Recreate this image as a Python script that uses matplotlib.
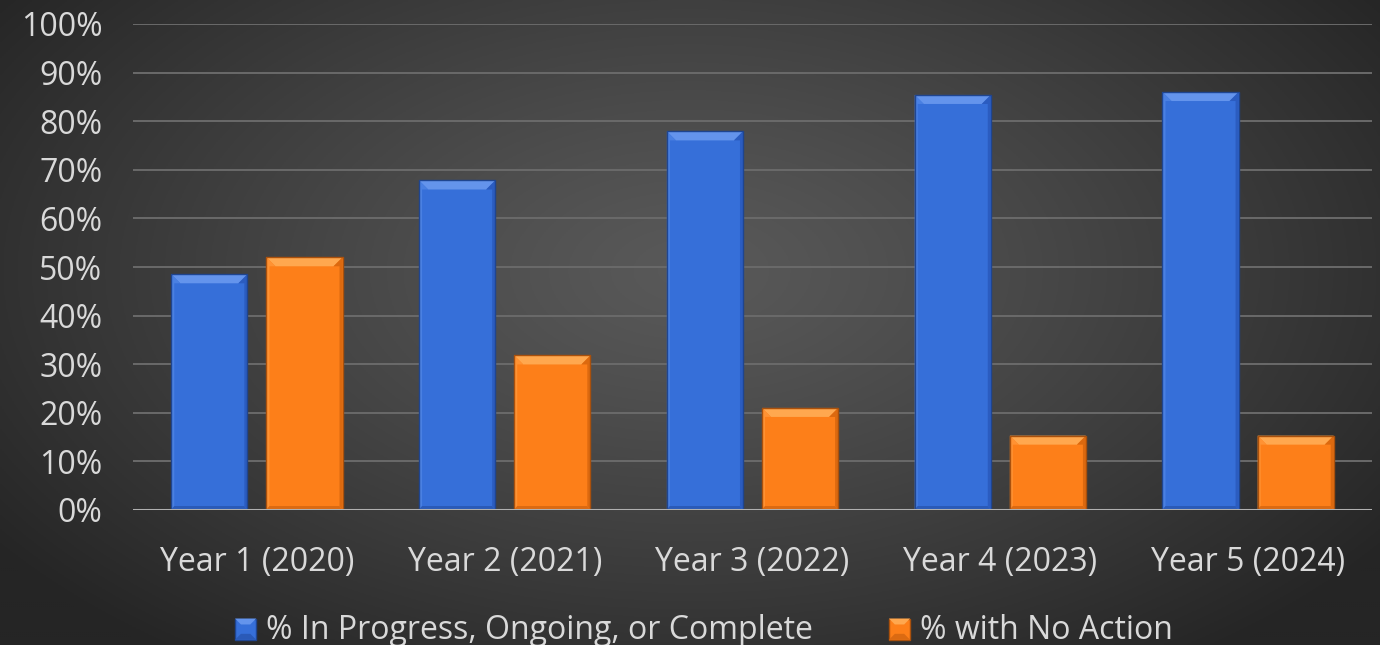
import numpy as np
import matplotlib
matplotlib.use("Agg")
import matplotlib.pyplot as plt
from matplotlib.patches import Polygon, Rectangle
from matplotlib.legend_handler import HandlerPatch

# ---- data ----
categories = ["Year 1 (2020)", "Year 2 (2021)", "Year 3 (2022)", "Year 4 (2023)", "Year 5 (2024)"]
in_progress = [48.5, 67.8, 77.9, 85.4, 86.0]
no_action = [52.0, 31.8, 21.0, 15.3, 15.3]
series_names = ["% In Progress, Ongoing, or Complete", "% with No Action"]
yticks = [0, 10, 20, 30, 40, 50, 60, 70, 80, 90, 100]
ytick_labels = [f"{v}%" for v in yticks]

BLUE = {"face": "#366fd9", "top": "#6494ec", "left": "#4a80e2", "right": "#2b5cc0",
        "bottom": "#2a5ab8", "edge": "#1f4590"}
ORANGE = {"face": "#fd7f19", "top": "#ffa84f", "left": "#ff9233", "right": "#dc690f",
          "bottom": "#db6a12", "edge": "#a9500c"}

FONT = ["Open Sans", "DejaVu Sans"]
TEXT = "#d9d9d9"
FS = 23

W, H, DPI = 13.8, 6.45, 100
fig = plt.figure(figsize=(W, H), dpi=DPI)

# radial background gradient
bg = fig.add_axes([0, 0, 1, 1], zorder=-10)
nx, ny = 690, 322
xx, yy = np.meshgrid(np.linspace(0, 1, nx), np.linspace(0, 1, ny))
r = np.sqrt(((xx - 0.5) / 0.62) ** 2 + ((yy - 0.42) / 0.75) ** 2)
r = np.clip(r, 0, 1)
inner, outer = 0x59, 0x25
lev = (inner + (outer - inner) * r ** 1.2) / 255.0
img = np.dstack([lev, lev, lev])
bg.imshow(img, extent=[0, 1, 0, 1], aspect="auto", origin="upper")
bg.set_axis_off()

ax = fig.add_axes([133 / 1380, (645 - 510) / 645, 1239 / 1380, 486 / 645])
ax.patch.set_alpha(0)
ax.set_xlim(-0.5, len(categories) - 0.5)
ax.set_ylim(0, 100)

for spine in ax.spines.values():
    spine.set_visible(False)
ax.set_yticks(yticks)
ax.set_yticklabels(ytick_labels, fontsize=FS, color=TEXT, family=FONT)
ax.tick_params(axis="y", length=0, pad=22)
x = np.arange(len(categories))
ax.set_xticks(x)
ax.set_xticklabels(categories, fontsize=FS, color=TEXT, family=FONT)
ax.tick_params(axis="x", length=0, pad=26)
for v in yticks[1:]:
    ax.axhline(v, color="#6a6a6a", lw=1.4, zorder=0)
ax.axhline(0, color="#b0b0b0", lw=2.2, zorder=5)

bw = 0.307
off = 0.192


def bevel(patch, c, b_px=9):
    x0, y0 = patch.get_x(), patch.get_y()
    w, h = patch.get_width(), patch.get_height()
    p0 = ax.transData.transform((0, 0))
    p1 = ax.transData.transform((1, 1))
    dx = b_px / (p1[0] - p0[0])
    dy = b_px / (p1[1] - p0[1])
    dyb = min(4 / (p1[1] - p0[1]), h / 4)
    sx = 3 / (p1[0] - p0[0])
    x1, y1 = x0 + w, y0 + h
    # top bevel
    ax.add_patch(Polygon([(x0, y1), (x1, y1), (x1 - dx, y1 - dy), (x0 + dx, y1 - dy)],
                         closed=True, facecolor=c["top"], edgecolor="none", zorder=3))
    # side strips
    ax.add_patch(Polygon([(x0, y0), (x0, y1), (x0 + dx, y1 - dy), (x0 + sx, y1 - dy), (x0 + sx, y0 + dyb)],
                         closed=True, facecolor=c["left"], edgecolor="none", zorder=3))
    ax.add_patch(Polygon([(x1, y0), (x1, y1), (x1 - dx, y1 - dy), (x1 - sx, y1 - dy), (x1 - sx, y0 + dyb)],
                         closed=True, facecolor=c["right"], edgecolor="none", zorder=3))
    # bottom strip
    ax.add_patch(Polygon([(x0, y0), (x1, y0), (x1 - sx, y0 + dyb), (x0 + sx, y0 + dyb)],
                         closed=True, facecolor=c["bottom"], edgecolor="none", zorder=3))
    # outline
    ax.add_patch(Rectangle((x0, y0), w, h, facecolor="none", edgecolor=c["edge"], lw=1.0, zorder=4))


bars1 = ax.bar(x - off, in_progress, bw, color=BLUE["face"], zorder=2, label=series_names[0])
bars2 = ax.bar(x + off, no_action, bw, color=ORANGE["face"], zorder=2, label=series_names[1])
for p in bars1:
    bevel(p, BLUE)
for p in bars2:
    bevel(p, ORANGE)


class BevelSquare(HandlerPatch):
    def __init__(self, c):
        super().__init__()
        self.c = c

    def create_artists(self, legend, orig_handle, xdescent, ydescent, width, height, fontsize, trans):
        s = height * 0.95
        cx = xdescent + width - s
        cy = -ydescent + (height - s) / 2 - height * 0.05
        c = self.c
        b = s * 0.28
        arts = [Rectangle((cx, cy), s, s, facecolor=c["face"], edgecolor=c["edge"], lw=1.0, transform=trans),
                Polygon([(cx, cy + s), (cx + s, cy + s), (cx + s - b, cy + s - b), (cx + b, cy + s - b)],
                        facecolor=c["top"], edgecolor="none", transform=trans),
                Polygon([(cx, cy), (cx + s, cy), (cx + s - b, cy + b), (cx + b, cy + b)],
                        facecolor=c["bottom"], edgecolor="none", transform=trans)]
        return arts


leg = fig.legend(handles=[bars1, bars2], labels=series_names, loc="lower center",
                 bbox_to_anchor=(0.509, -0.048), ncol=2, frameon=False,
                 prop={"family": FONT, "size": FS}, labelcolor=TEXT,
                 handlelength=0.75, handletextpad=0.3, columnspacing=2.3,
                 handler_map={bars1: BevelSquare(BLUE), bars2: BevelSquare(ORANGE)})

fig.savefig("out.png", dpi=DPI)
